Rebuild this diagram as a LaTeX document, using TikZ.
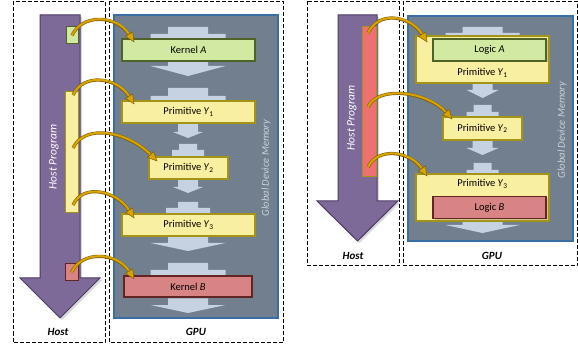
\documentclass[tikz,border=0pt]{standalone}
\usepackage{fontspec}
\setmainfont{Carlito}
\usetikzlibrary{arrows.meta,shadows}
\definecolor{memfill}{HTML}{717F8F}
\definecolor{memdraw}{HTML}{3C6EA6}
\definecolor{flowfill}{HTML}{C6D2E2}
\definecolor{hostfill}{HTML}{7E6A98}
\definecolor{hostdraw}{HTML}{4C3A64}
\definecolor{kgreen}{HTML}{D1E9A1}
\definecolor{kgreenD}{HTML}{4F6228}
\definecolor{pyellow}{HTML}{F9EFA0}
\definecolor{pyellowD}{HTML}{A39318}
\definecolor{kred}{HTML}{D98484}
\definecolor{kredD}{HTML}{632523}
\definecolor{hred}{HTML}{EF7070}
\definecolor{callfill}{HTML}{D9A300}
\definecolor{calldraw}{HTML}{7F6000}
% light flow arrows behind the boxes
\newcommand\flowin[6]{\fill[flowfill] (#1-#5,#2) -- (#1+#5,#2) -- (#1+#5,#3) -- (#1+#6,#3)
  -- (#1+#6,#4+2) -- (#1-#6,#4+2) -- (#1-#6,#3) -- (#1-#5,#3) -- cycle;}
\newcommand\flowout[6]{\fill[flowfill] (#1-#5,#2-2) -- (#1+#5,#2-2) -- (#1+#5,#3) -- (#1+#6,#3)
  -- (#1,#4) -- (#1-#6,#3) -- (#1-#5,#3) -- cycle;}
\begin{document}
\begin{tikzpicture}[x=1pt,y=-1pt,
	every node/.style={inner sep=0,font=\fontsize{10.5}{12}\selectfont},
	frame/.style={draw,line width=1pt,dash pattern=on 4pt off 2pt},
	block/.style={draw,line width=1.2pt,minimum height=22pt,
		drop shadow={opacity=0.35,shadow xshift=1.5pt,shadow yshift=-1.5pt}},
	kern/.style={block,fill=kgreen,draw=kgreenD},
	prim/.style={block,fill=pyellow,draw=pyellowD},
	kernb/.style={block,fill=kred,draw=kredD},
	hbar/.style={draw,line width=1pt},
	hostarrow/.style={fill=hostfill,draw=hostdraw,line width=1pt,
		drop shadow={opacity=0.3,shadow xshift=2pt,shadow yshift=-2pt}},
	mem/.style={fill=memfill,draw=memdraw,line width=1.2pt},
	side/.style={font=\fontsize{11}{12}\selectfont\bfseries\itshape},
	call/.style={draw=callfill,line width=2pt,
		-{Triangle[length=10pt,width=9pt,fill=callfill,color=calldraw,line width=0.5pt]},
		preaction={draw=calldraw,line width=3.2pt,arrows=-,shorten >=8pt}}]
\useasboundingbox (0,0) rectangle (578,347);

%%% left: kernels
\draw[frame] (13,1.5) rectangle (105,342);
\draw[frame] (109,1.5) rectangle (283,342);
\draw[mem] (114,15) rectangle (278,318);
\flowin{188}{27}{34}{39}{20}{37.5}
\flowout{188}{61}{66}{76}{20}{37.5}
\flowin{188}{88}{96}{101}{20}{37.5}
\flowout{188}{123}{132}{138}{10}{15}
\flowin{188}{144}{150}{157}{9}{16}
\flowout{188}{179}{187}{193}{10}{15}
\flowin{188}{202}{208}{214}{10}{22}
\flowout{188}{236}{243}{251}{20}{37.5}
\flowin{188}{263}{270}{276}{20}{37.5}
\flowout{188}{298}{305}{313}{20}{37.5}
\node[kern,minimum width=133pt] (kA) at (188.5,50) {Kernel \textit{A}};
\node[prim,minimum width=133pt] (y1) at (188.5,112) {Primitive \textit{Y}\textsubscript{1}};
\node[prim,minimum width=79pt] (y2) at (188.5,168) {Primitive \textit{Y}\textsubscript{2}};
\node[prim,minimum width=133pt] (y3) at (188.5,225) {Primitive \textit{Y}\textsubscript{3}};
\node[kernb,minimum width=128pt,minimum height=21pt] (kB) at (188,286.5) {Kernel \textit{B}};
\node[rotate=90,text=memfill!35!white,font=\fontsize{10.5}{12}\selectfont\itshape] (gdm) at (266,168) {Global Device Memory};

\draw[hostarrow] (40,15) -- (80,15) -- (80,278) -- (100,278) -- (60,318) -- (20,278) -- (40,278) -- cycle;
\node[rotate=90,text=white,font=\fontsize{11.5}{12}\selectfont\itshape] (hp) at (54,157) {Host Program};
\node[hbar,fill=kgreen,draw=kgreenD,minimum width=12pt,minimum height=17pt] (hA) at (72,35.5) {};
\node[hbar,fill=pyellow,draw=pyellowD,minimum width=13pt,minimum height=121pt] (hY) at (71.5,152.5) {};
\node[hbar,fill=kred,draw=kredD,minimum width=13pt,minimum height=17pt] (hB) at (71.5,272.5) {};
\coordinate (c2) at (73,95);
\coordinate (c3) at (73,148);
\coordinate (c4) at (73,205);

\draw[call] (hA.center) .. controls +(10,-22) and +(-18,-28) .. ([xshift=13pt,yshift=-4pt]kA.north west);
\draw[call] (c2) .. controls +(10,-22) and +(-18,-28) .. ([xshift=13pt,yshift=-4pt]y1.north west);
\draw[call] (c3) .. controls +(12,-25) and +(-30,-30) .. ([xshift=9pt,yshift=-5pt]y2.north west);
\draw[call] (c4) .. controls +(10,-22) and +(-18,-28) .. ([xshift=13pt,yshift=-5pt]y3.north west);
\draw[call] (hB.center) .. controls +(10,-22) and +(-18,-28) .. ([xshift=11pt,yshift=-4pt]kB.north west);

\node[side] (hostL) at (58,332) {Host};
\node[side] (gpuL) at (196,332) {GPU};

%%% right: logic inside primitives
\draw[frame] (307,1.5) rectangle (399,266);
\draw[frame] (403,1.5) rectangle (577,266);
\draw[mem] (408,16) rectangle (573,241);
\flowin{482.5}{27}{33}{36}{20}{37}
\flowout{482.5}{83}{90}{98}{10}{16}
\flowin{482.5}{105}{112}{117}{9}{16}
\flowout{482.5}{140}{148}{155}{10}{16}
\flowin{482.5}{163}{170}{174}{9}{16}
\flowout{482.5}{221}{225}{233}{20}{37}
\node[prim,minimum width=133pt,minimum height=47pt] (ry1) at (482.5,59.5) {};
\node (ry1t) at (482.5,73) {Primitive \textit{Y}\textsubscript{1}};
\node[kern,minimum width=113pt] (lA) at (489.5,50) {Logic \textit{A}};
\node[prim,minimum width=79pt,minimum height=23pt] (ry2) at (482.5,128.5) {Primitive \textit{Y}\textsubscript{2}};
\node[prim,minimum width=133pt,minimum height=47pt] (ry3) at (482.5,197.5) {};
\node (ry3t) at (482.5,184) {Primitive \textit{Y}\textsubscript{3}};
\node[kernb,minimum width=113pt] (lB) at (489.5,207.5) {Logic \textit{B}};
\node[rotate=90,text=memfill!35!white,font=\fontsize{10.5}{12}\selectfont\itshape] (rgdm) at (562,130) {Global Device Memory};

\draw[hostarrow] (338,15) -- (377,15) -- (377,201) -- (398,201) -- (357.5,241) -- (317,201) -- (338,201) -- cycle;
\node[rotate=90,text=white,font=\fontsize{11.5}{12}\selectfont\itshape] (rhp) at (352,118) {Host Program};
\node[hbar,fill=hred,draw=pyellowD,minimum width=14pt,minimum height=150pt] (rhb) at (369,102) {};
\coordinate (r1) at (368,33);
\coordinate (r2) at (368,107);
\coordinate (r3) at (368,167);

\draw[call] (r1) .. controls +(10,-22) and +(-18,-28) .. ([xshift=12pt,yshift=-7pt]ry1.north west);
\draw[call] (r2) .. controls +(10,-22) and +(-25,-28) .. ([xshift=10pt,yshift=-3pt]ry2.north west);
\draw[call] (r3) .. controls +(10,-20) and +(-18,-26) .. ([xshift=12pt,yshift=-3pt]ry3.north west);

\node[side] (rhostL) at (353,256) {Host};
\node[side] (rgpuL) at (492,256) {GPU};
\end{tikzpicture}
\end{document}
